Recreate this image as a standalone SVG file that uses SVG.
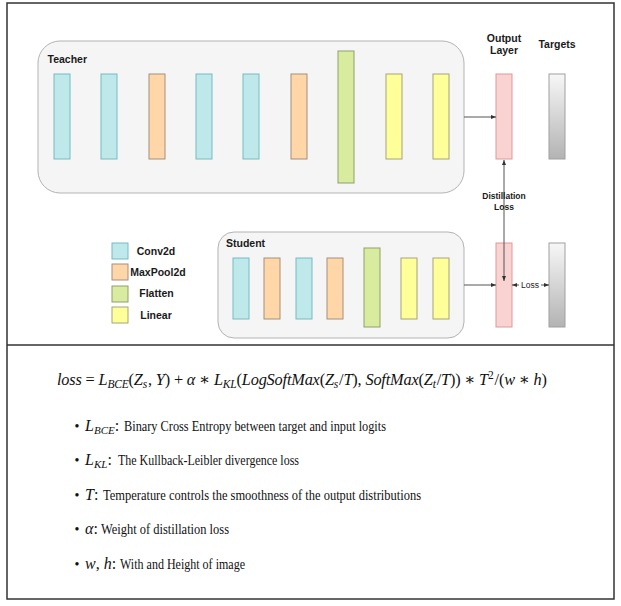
<svg xmlns="http://www.w3.org/2000/svg" width="621" height="606" viewBox="0 0 621 606">
<defs>
<linearGradient id="gTarget" x1="0" y1="0" x2="0" y2="1"><stop offset="0" stop-color="#f7f7f7"/><stop offset="1" stop-color="#b3b3b3"/></linearGradient>
<marker id="ah" viewBox="0 0 10 10" refX="10" refY="5" markerWidth="5" markerHeight="5" orient="auto-start-reverse"><path d="M0,1 L10,5 L0,9 Z" fill="#333"/></marker>
</defs>
<style>
.frame{fill:none;stroke:#333;stroke-width:1.5}
.grp{fill:#f5f5f5;stroke:#b3b3b3;stroke-width:1}
.conv{fill:#bfe8ea;stroke:#74bcc1;stroke-width:1}
.pool{fill:#ffd6a8;stroke:#a38f7c;stroke-width:1}
.flat{fill:#d8eb9f;stroke:#8fa06a;stroke-width:1}
.lin{fill:#ffff99;stroke:#a3a37a;stroke-width:1}
.out{fill:#f8d3d2;stroke:#df9a98;stroke-width:1}
.tgt{fill:url(#gTarget);stroke:#a0a0a0;stroke-width:1}
.lbl{font-family:"Liberation Sans",Arial,sans-serif;font-weight:bold;font-size:10.5px;fill:#1a1a1a}
.small{font-family:"Liberation Sans",Arial,sans-serif;font-size:8.5px;fill:#1a1a1a}
.conn{fill:none;stroke:#555;stroke-width:1}
.math{font-family:"Liberation Serif","DejaVu Serif",serif;font-style:italic;fill:#111}
.up{font-style:normal}
.desc{font-family:"Liberation Serif","DejaVu Serif",serif;font-size:15px;fill:#111}
.dot{font-family:"Liberation Serif",serif;font-size:14px;fill:#111;text-anchor:middle}
</style>
<rect width="621" height="606" fill="#ffffff"/>
<rect class="frame" x="7" y="3" width="607" height="596"/>
<line class="frame" x1="7" y1="345" x2="614" y2="345"/>

<g id="teacher">
<rect class="grp" x="38" y="41" width="426" height="152" rx="22"/>
<text class="lbl" x="47.5" y="63">Teacher</text>
<rect class="conv" x="54" y="74" width="16" height="85"/>
<rect class="conv" x="101" y="74" width="16" height="85"/>
<rect class="pool" x="149" y="74" width="16" height="85"/>
<rect class="conv" x="196" y="74" width="16" height="85"/>
<rect class="conv" x="243" y="74" width="16" height="85"/>
<rect class="pool" x="291" y="74" width="16" height="85"/>
<rect class="flat" x="338" y="51" width="16" height="132"/>
<rect class="lin" x="386" y="74" width="16" height="85"/>
<rect class="lin" x="433" y="74" width="16" height="85"/>
</g>

<g id="student">
<rect class="grp" x="218" y="232" width="246" height="106" rx="16"/>
<text class="lbl" x="226" y="247">Student</text>
<rect class="conv" x="233" y="258" width="16" height="61"/>
<rect class="pool" x="264" y="258" width="16" height="61"/>
<rect class="conv" x="296" y="258" width="16" height="61"/>
<rect class="pool" x="327" y="258" width="16" height="61"/>
<rect class="flat" x="364" y="248" width="16" height="79"/>
<rect class="lin" x="401" y="258" width="16" height="61"/>
<rect class="lin" x="433" y="258" width="16" height="61"/>
</g>

<g id="legend">
<g id="legend-conv"><rect class="conv" x="112" y="243" width="16" height="16"/><text class="lbl" x="156" y="255" text-anchor="middle">Conv2d</text></g>
<g id="legend-pool"><rect class="pool" x="112" y="264" width="16" height="16"/><text class="lbl" x="158" y="276" text-anchor="middle">MaxPool2d</text></g>
<g id="legend-flat"><rect class="flat" x="112" y="286" width="16" height="16"/><text class="lbl" x="156.5" y="297" text-anchor="middle">Flatten</text></g>
<g id="legend-lin"><rect class="lin" x="112" y="307" width="16" height="16"/><text class="lbl" x="156" y="319" text-anchor="middle">Linear</text></g>
</g>

<g id="output-header"><text class="lbl" x="504" y="42" text-anchor="middle">Output</text><text class="lbl" x="504" y="54" text-anchor="middle">Layer</text></g>
<g id="targets-header"><text class="lbl" x="557" y="48" text-anchor="middle">Targets</text></g>
<g id="teacher-output"><rect class="out" x="496" y="74" width="16" height="85"/></g>
<g id="teacher-targets"><rect class="tgt" x="549" y="74" width="16" height="85"/></g>
<g id="student-output"><rect class="out" x="496" y="243" width="16" height="84"/></g>
<g id="student-targets"><rect class="tgt" x="549" y="243" width="16" height="84"/></g>

<g id="connectors">
<line class="conn" x1="464" y1="117" x2="496" y2="117" marker-end="url(#ah)"/>
<line class="conn" x1="464" y1="285" x2="496" y2="285" marker-end="url(#ah)"/>
<line class="conn" x1="504" y1="160" x2="504" y2="281" marker-start="url(#ah)" marker-end="url(#ah)"/>
<line class="conn" x1="512" y1="285" x2="549" y2="285" marker-start="url(#ah)" marker-end="url(#ah)"/>
<text class="small" x="504" y="199" text-anchor="middle" font-weight="bold">Distillation</text>
<text class="small" x="504" y="210" text-anchor="middle" font-weight="bold">Loss</text>
<rect x="519" y="279" width="22" height="11" fill="#ffffff"/>
<text class="small" x="530" y="288" text-anchor="middle" font-size="9">Loss</text>
</g>

<g id="formula">
<text class="math" x="57" y="385" font-size="16.3" textLength="490" lengthAdjust="spacing">loss <tspan class="up">=</tspan> L<tspan font-size="11.5" dy="3">BCE</tspan><tspan class="up" dy="-3">(</tspan>Z<tspan font-size="11.5" dy="3">s</tspan><tspan class="up" dy="-3" dx="1">,</tspan> Y<tspan class="up">) + </tspan>α <tspan class="up">∗</tspan> L<tspan font-size="11.5" dy="3">KL</tspan><tspan class="up" dy="-3">(</tspan>LogSoftMax<tspan class="up">(</tspan>Z<tspan font-size="11.5" dy="3">s</tspan><tspan class="up" dy="-3" dx="1">/</tspan>T<tspan class="up">),</tspan> SoftMax<tspan class="up">(</tspan>Z<tspan font-size="11.5" dy="3">t</tspan><tspan class="up" dy="-3" dx="1">/</tspan>T<tspan class="up">)) ∗ </tspan>T<tspan class="up" font-size="11.5" dy="-6">2</tspan><tspan class="up" dy="6" dx="1">/(</tspan>w <tspan class="up">∗</tspan> h<tspan class="up">)</tspan></text>
</g>

<g id="bullet-bce">
<text class="dot" x="77" y="431">•</text>
<text class="math" x="85" y="431" font-size="16">L<tspan font-size="11" dy="3">BCE</tspan><tspan class="up" dy="-3">:</tspan></text>
<text class="desc" x="124" y="431" textLength="262" lengthAdjust="spacingAndGlyphs">Binary Cross Entropy between target and input logits</text>
</g>
<g id="bullet-kl">
<text class="dot" x="77" y="465">•</text>
<text class="math" x="85" y="465" font-size="16">L<tspan font-size="11" dy="3">KL</tspan><tspan class="up" dy="-3">:</tspan></text>
<text class="desc" x="118" y="465" textLength="181" lengthAdjust="spacingAndGlyphs">The Kullback-Leibler divergence loss</text>
</g>
<g id="bullet-t">
<text class="dot" x="77" y="500">•</text>
<text class="math" x="85" y="500" font-size="16">T<tspan class="up">:</tspan></text>
<text class="desc" x="103" y="500" textLength="318" lengthAdjust="spacingAndGlyphs">Temperature controls the smoothness of the output distributions</text>
</g>
<g id="bullet-alpha">
<text class="dot" x="77" y="534">•</text>
<text class="math" x="85" y="534" font-size="16">α<tspan class="up">:</tspan></text>
<text class="desc" x="101" y="534" textLength="128" lengthAdjust="spacingAndGlyphs">Weight of distillation loss</text>
</g>
<g id="bullet-wh">
<text class="dot" x="77" y="569">•</text>
<text class="math" x="85" y="569" font-size="16">w<tspan class="up">,</tspan> h<tspan class="up">:</tspan></text>
<text class="desc" x="120" y="569" textLength="125" lengthAdjust="spacingAndGlyphs">With and Height of image</text>
</g>
</svg>
